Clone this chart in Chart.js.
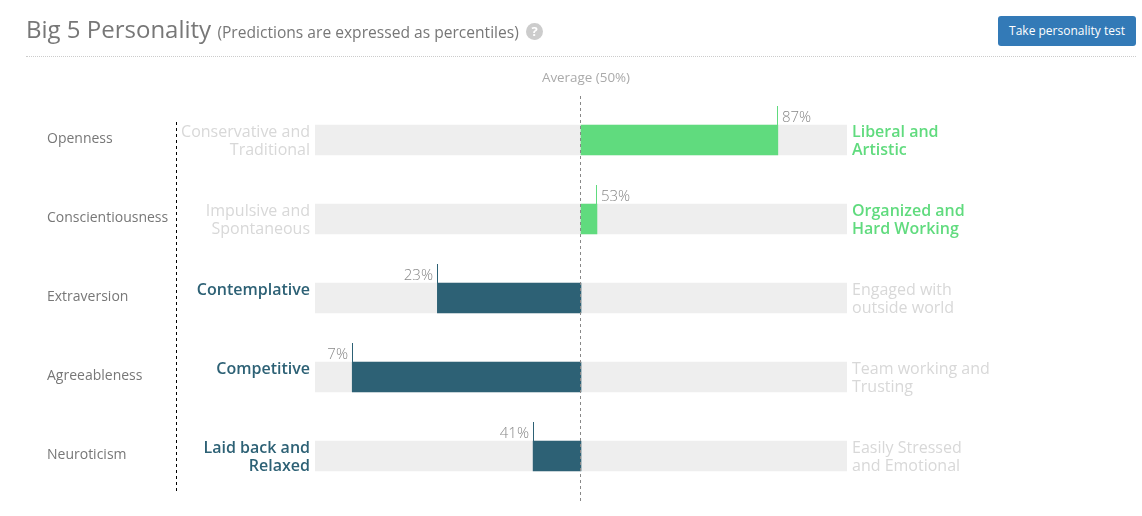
<!DOCTYPE html>
<html lang="en">

<head>
    <meta charset="UTF-8" />
    <title>Big 5 Personality</title>
    <style>
        html, body { margin: 0; padding: 0; background: #fff; overflow: hidden; }
        body { width: 1142px; height: 516px; position: relative; font-family: "Open Sans", sans-serif; }
        #myChart { position: absolute; left: 0; top: 0; }
        #title { position: absolute; left: 26px; top: 12px; font-size: 24px; line-height: 34px; color: #777; white-space: nowrap; }
        #title small { font-size: 15.6px; }
        #help { position: absolute; left: 526px; top: 23px; width: 17px; height: 17px; border-radius: 50%; background: #ccc; color: #fff; font-size: 13px; font-weight: 700; line-height: 17px; text-align: center; }
        #rule { position: absolute; left: 26px; top: 56px; width: 1110px; border-top: 1px dotted #ccc; }
        #btn { position: absolute; left: 998px; top: 16px; width: 138px; height: 30px; background: #337ab7; border-radius: 3px; color: #fff; font-size: 12px; line-height: 30px; text-align: center; }
    </style>
</head>

<body>
    <canvas id="myChart" width="1142" height="516"></canvas>
    <div id="title">Big 5 Personality <small>(Predictions are expressed as percentiles)</small></div>
    <div id="help">?</div>
    <div id="rule"></div>
    <div id="btn">Take personality test</div>

    <script src="https://cdn.jsdelivr.net/npm/chart.js@4"></script>
    <script>
        var categories = ['Openness', 'Conscientiousness', 'Extraversion', 'Agreeableness', 'Neuroticism'];
        var percentiles = [87, 53, 23, 7, 41];
        var lowLabels = [
            ['Conservative and', 'Traditional'],
            ['Impulsive and', 'Spontaneous'],
            ['Contemplative'],
            ['Competitive'],
            ['Laid back and', 'Relaxed']
        ];
        var highLabels = [
            ['Liberal and', 'Artistic'],
            ['Organized and', 'Hard Working'],
            ['Engaged with', 'outside world'],
            ['Team working and', 'Trusting'],
            ['Easily Stressed', 'and Emotional']
        ];
        var averageLabel = 'Average (50%)';

        var GREEN = '#60db7e';
        var DARK = '#2d6175';
        var FADED = '#d8d8d8';
        var FONT = '"Open Sans", sans-serif';

        function sideColor(v) {
            return v >= 50 ? GREEN : DARK;
        }

        // trait texts, value markers and the two dashed lines
        var annotations = {
            id: 'annotations',
            afterDatasetsDraw: function (chart) {
                var ctx = chart.ctx;
                var x = chart.scales.x;
                var y = chart.scales.y;
                var mid = x.getPixelForValue(50);
                ctx.save();

                // average line
                ctx.strokeStyle = '#888';
                ctx.lineWidth = 1;
                ctx.setLineDash([3, 3]);
                ctx.beginPath();
                ctx.moveTo(mid - 0.5, 96);
                ctx.lineTo(mid - 0.5, 503);
                ctx.stroke();

                // divider next to the trait names
                ctx.strokeStyle = '#000';
                ctx.beginPath();
                ctx.moveTo(176.5, y.getPixelForValue(0) - 18);
                ctx.lineTo(176.5, y.getPixelForValue(4) + 36);
                ctx.stroke();
                ctx.setLineDash([]);

                ctx.font = '13.4px ' + FONT;
                ctx.fillStyle = '#aaa';
                ctx.textAlign = 'center';
                ctx.textBaseline = 'middle';
                ctx.fillText(averageLabel, 586, 78);

                categories.forEach(function (c, i) {
                    var v = percentiles[i];
                    var cy = y.getPixelForValue(i);
                    var px = Math.round(x.getPixelForValue(v));
                    var high = v >= 50;
                    var lineX = high ? px - 0.5 : px + 0.5;

                    ctx.strokeStyle = sideColor(v);
                    ctx.beginPath();
                    ctx.moveTo(lineX, cy - 34);
                    ctx.lineTo(lineX, cy - 15);
                    ctx.stroke();

                    ctx.font = '300 15px ' + FONT;
                    ctx.fillStyle = '#888';
                    ctx.textAlign = high ? 'left' : 'right';
                    ctx.fillText(v + '%', px + (high ? 4 : -4), cy - 22);

                    ctx.textAlign = 'right';
                    ctx.font = (high ? '400' : '600') + ' 16px ' + FONT;
                    ctx.fillStyle = high ? FADED : DARK;
                    lowLabels[i].forEach(function (t, n) {
                        ctx.fillText(t, 310, cy - 8 + n * 18);
                    });

                    ctx.textAlign = 'left';
                    ctx.font = (high ? '600' : '400') + ' 16px ' + FONT;
                    ctx.fillStyle = high ? GREEN : FADED;
                    highLabels[i].forEach(function (t, n) {
                        ctx.fillText(t, 852, cy - 8 + n * 18);
                    });
                });
                ctx.restore();
            }
        };

        new Chart(document.getElementById('myChart').getContext('2d'), {
            type: 'bar',
            data: {
                labels: categories,
                datasets: [
                    {
                        data: percentiles.map(function (v) { return [50, v]; }),
                        backgroundColor: percentiles.map(sideColor),
                        grouped: false,
                        barThickness: 30,
                        order: 1
                    },
                    {
                        data: percentiles.map(function () { return [0, 100]; }),
                        backgroundColor: '#eeeeee',
                        grouped: false,
                        barThickness: 30,
                        order: 2
                    }
                ]
            },
            options: {
                indexAxis: 'y',
                responsive: false,
                animation: false,
                layout: { padding: { left: 47, right: 295, top: 100.5, bottom: 20.5 } },
                plugins: { legend: { display: false }, tooltip: { enabled: false } },
                scales: {
                    x: { display: false, min: 0, max: 100 },
                    y: {
                        grid: { display: false },
                        border: { display: false },
                        afterFit: function (scale) { scale.width = 268; },
                        ticks: {
                            crossAlign: 'far',
                            color: '#777',
                            font: { family: FONT, size: 14 }
                        },
                        // tick text sits 1px above the band centre
                        afterTickToLabelConversion: function (scale) { scale.options.ticks.labelOffset = -1; }
                    }
                }
            },
            plugins: [annotations]
        });
    </script>
</body>

</html>
